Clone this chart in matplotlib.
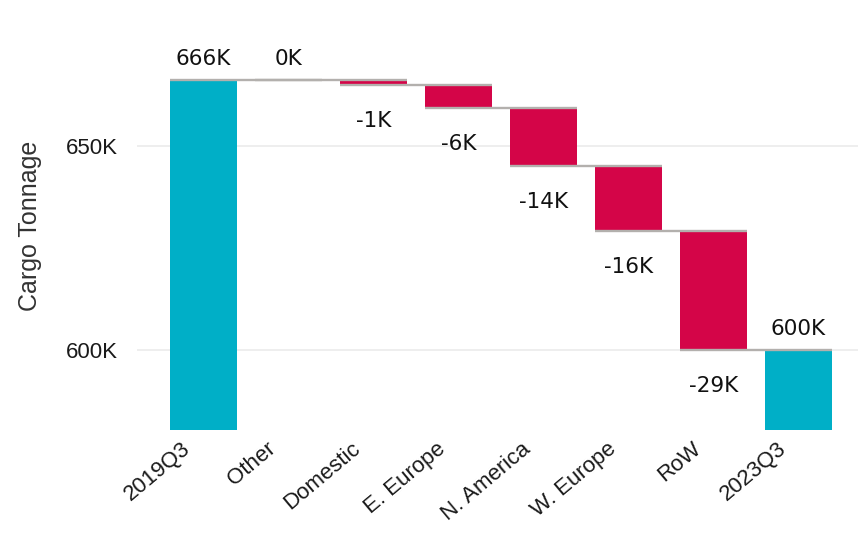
import matplotlib
matplotlib.use('Agg')
import matplotlib.pyplot as plt
import matplotlib.transforms as mtransforms
from matplotlib.ticker import FuncFormatter

# ---- data (thousands of tonnes) ----
categories = ["2019Q3", "Other", "Domestic", "E. Europe", "N. America", "W. Europe", "RoW", "2023Q3"]
start_total = 666.2
deltas = [0.0, -1.2, -5.6, -14.3, -15.9, -29.2]
y_ticks = [600, 650]

TEAL = "#00AFC7"
RED = "#D40548"
LINE = "#B3B0AD"
TXT = "#1A1A1A"

end_total = start_total + sum(deltas)

fig = plt.figure(figsize=(8.58, 5.44), dpi=100)
ax = fig.add_axes([137 / 858, 1 - 430 / 544, 1 - 137 / 858, 400 / 544])

width = 0.79
bottoms, heights, colors, levels, label_vals, kinds = [], [], [], [], [], []

# start total
bottoms.append(0); heights.append(start_total); colors.append(TEAL)
levels.append(start_total); label_vals.append(start_total); kinds.append("up")
run = start_total
for d in deltas:
    new = run + d
    bottoms.append(min(run, new)); heights.append(abs(d))
    colors.append(RED if d < 0 else TEAL)
    levels.append(new); label_vals.append(d)
    kinds.append("down" if d < 0 else "up")
    run = new
bottoms.append(0); heights.append(end_total); colors.append(TEAL)
levels.append(end_total); label_vals.append(end_total); kinds.append("up")

x = list(range(len(categories)))
ax.bar(x, heights, bottom=bottoms, width=width, color=colors, zorder=2, linewidth=0)

# connector lines
for i in range(len(x) - 1):
    ax.plot([x[i] - width / 2, x[i + 1] + width / 2], [levels[i], levels[i]],
            color=LINE, lw=1.7, zorder=3, solid_capstyle='butt')

# data labels
for i, (v, k) in enumerate(zip(label_vals, kinds)):
    txt = f"{v:.0f}K"
    if k == "up":
        top = bottoms[i] + heights[i]
        ax.annotate(txt, (x[i], top), xytext=(0, 8), textcoords='offset points',
                    ha='center', va='bottom', fontsize=15.5, color='#111111', family='DejaVu Sans')
    else:
        ax.annotate(txt, (x[i], bottoms[i]), xytext=(0, -19), textcoords='offset points',
                    ha='center', va='top', fontsize=15.5, color='#111111', family='DejaVu Sans')

ax.set_xlim(-0.782, 7.7)
ax.set_ylim(580.4, 678.4)
ax.set_yticks(y_ticks)
ax.yaxis.set_major_formatter(FuncFormatter(lambda v, p: f"{v:.0f}K"))
ax.grid(axis='y', color='#EBEBEB', lw=1.2, zorder=0)
ax.set_axisbelow(True)
for s in ax.spines.values():
    s.set_visible(False)
ax.tick_params(axis='y', length=0, pad=14, labelsize=16, labelcolor=TXT)
ax.tick_params(axis='x', length=0, pad=6)
for lab in ax.get_yticklabels():
    lab.set_family('Liberation Sans')

ax.set_xticks(x)
ax.set_xticklabels(categories, rotation=40, ha='right', rotation_mode='anchor',
                   fontsize=16, color=TXT, family='Liberation Sans')
shift = mtransforms.ScaledTranslation(-22 / 100, 0, fig.dpi_scale_trans)
for lab in ax.get_xticklabels():
    lab.set_transform(lab.get_transform() + shift)

fig.text(30 / 858, 1 - 226 / 544, "Cargo Tonnage", rotation=90, ha='center', va='center',
         fontsize=18, color='#333333', family='Liberation Sans')

fig.savefig("out.png", dpi=100)
